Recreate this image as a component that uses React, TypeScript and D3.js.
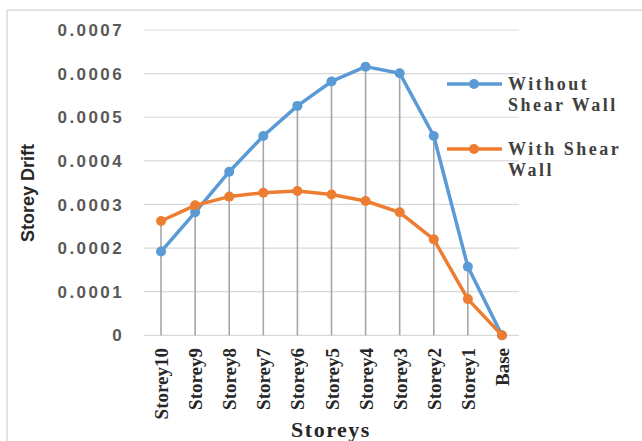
import React from "react";
import * as d3 from "d3";

const categories = ["Storey10", "Storey9", "Storey8", "Storey7", "Storey6", "Storey5", "Storey4", "Storey3", "Storey2", "Storey1", "Base"];
const withoutShearWall = [0.000192, 0.000282, 0.000375, 0.000457, 0.000526, 0.000582, 0.000616, 0.000601, 0.000457, 0.000157, 0];
const withShearWall = [0.000262, 0.000298, 0.000318, 0.000327, 0.000331, 0.000323, 0.000308, 0.000282, 0.00022, 0.000083, 0];
const yTicks = [0, 0.0001, 0.0002, 0.0003, 0.0004, 0.0005, 0.0006, 0.0007];
const yTickLabels = ["0", "0.0001", "0.0002", "0.0003", "0.0004", "0.0005", "0.0006", "0.0007"];

const W = 642, H = 441;
const plotL = 144, plotR = 519, plotT = 30, plotB = 335.3;
const BLUE = "#5B9BD5", ORANGE = "#ED7D31";

export default function App() {
  const x = d3.scalePoint<string>().domain(categories).range([plotL, plotR]).padding(0.5);
  const y = d3.scaleLinear().domain([0, 0.0007]).range([plotB, plotT]);
  const line = d3.line<number>().x((_, i) => x(categories[i])!).y((d) => y(d));
  const series = [
    { name: ["Without", "Shear Wall"], data: withoutShearWall, color: BLUE },
    { name: ["With Shear", "Wall"], data: withShearWall, color: ORANGE },
  ];
  const serif = "'Liberation Serif', 'Times New Roman', serif";
  const sans = "'Liberation Sans', Arial, sans-serif";
  return (
    <svg width={W} height={H} style={{ position: "absolute", left: 0, top: 0, background: "#fff" }}>
      <rect x={0} y={0} width={W} height={H} fill="#fff" />
      <line x1={7} x2={W} y1={10} y2={10} stroke="#d9d9d9" strokeWidth={1.5} />
      <line x1={7} x2={7} y1={10} y2={H} stroke="#d9d9d9" strokeWidth={1.5} />
      {yTicks.map((t, i) => (
        <g key={i}>
          <line x1={plotL} x2={plotR} y1={y(t)} y2={y(t)} stroke="#d9d9d9" strokeWidth={1.2} />
          <text x={124} y={y(t)} dy="0.36em" textAnchor="end" fontFamily={sans} fontWeight="bold" fontSize={17} letterSpacing={2.4} fill="#595959">
            {yTickLabels[i]}
          </text>
        </g>
      ))}
      {categories.map((c, i) => {
        const top = Math.max(withoutShearWall[i], withShearWall[i]);
        return (
          <line key={c} x1={x(c)} x2={x(c)} y1={y(top)} y2={plotB} stroke="#a6a6a6" strokeWidth={1.6} />
        );
      })}
      {series.map((s) => (
        <g key={s.name.join(" ")}>
          <path d={line(s.data)!} fill="none" stroke={s.color} strokeWidth={3.5} strokeLinejoin="round" />
          {s.data.map((v, i) => (
            <circle key={i} cx={x(categories[i])} cy={y(v)} r={5} fill={s.color} />
          ))}
        </g>
      ))}
      {categories.map((c) => (
        <text key={c} transform={`translate(${x(c)! + 7},348) rotate(-90)`} textAnchor="end" fontFamily={serif} fontWeight="bold" fontSize={19} fill="#262626">
          {c}
        </text>
      ))}
      <text x={331} y={437} textAnchor="middle" fontFamily={serif} fontWeight="bold" fontSize={22} letterSpacing={1.5} fill="#262626">
        Storeys
      </text>
      <text transform="translate(34,193) rotate(-90)" textAnchor="middle" fontFamily={sans} fontWeight="bold" fontSize={18} fill="#262626">
        Storey Drift
      </text>
      {series.map((s, k) => {
        const ly = k === 0 ? 84 : 149;
        return (
          <g key={k}>
            <line x1={447} x2={502} y1={ly} y2={ly} stroke={s.color} strokeWidth={3.5} />
            <circle cx={474} cy={ly} r={5} fill={s.color} />
            {s.name.map((t, j) => (
              <text key={j} x={508} y={ly + 6 + j * 21} fontFamily={serif} fontWeight="bold" fontSize={18} letterSpacing={2.5} fill="#404040">
                {t}
              </text>
            ))}
          </g>
        );
      })}
    </svg>
  );
}
